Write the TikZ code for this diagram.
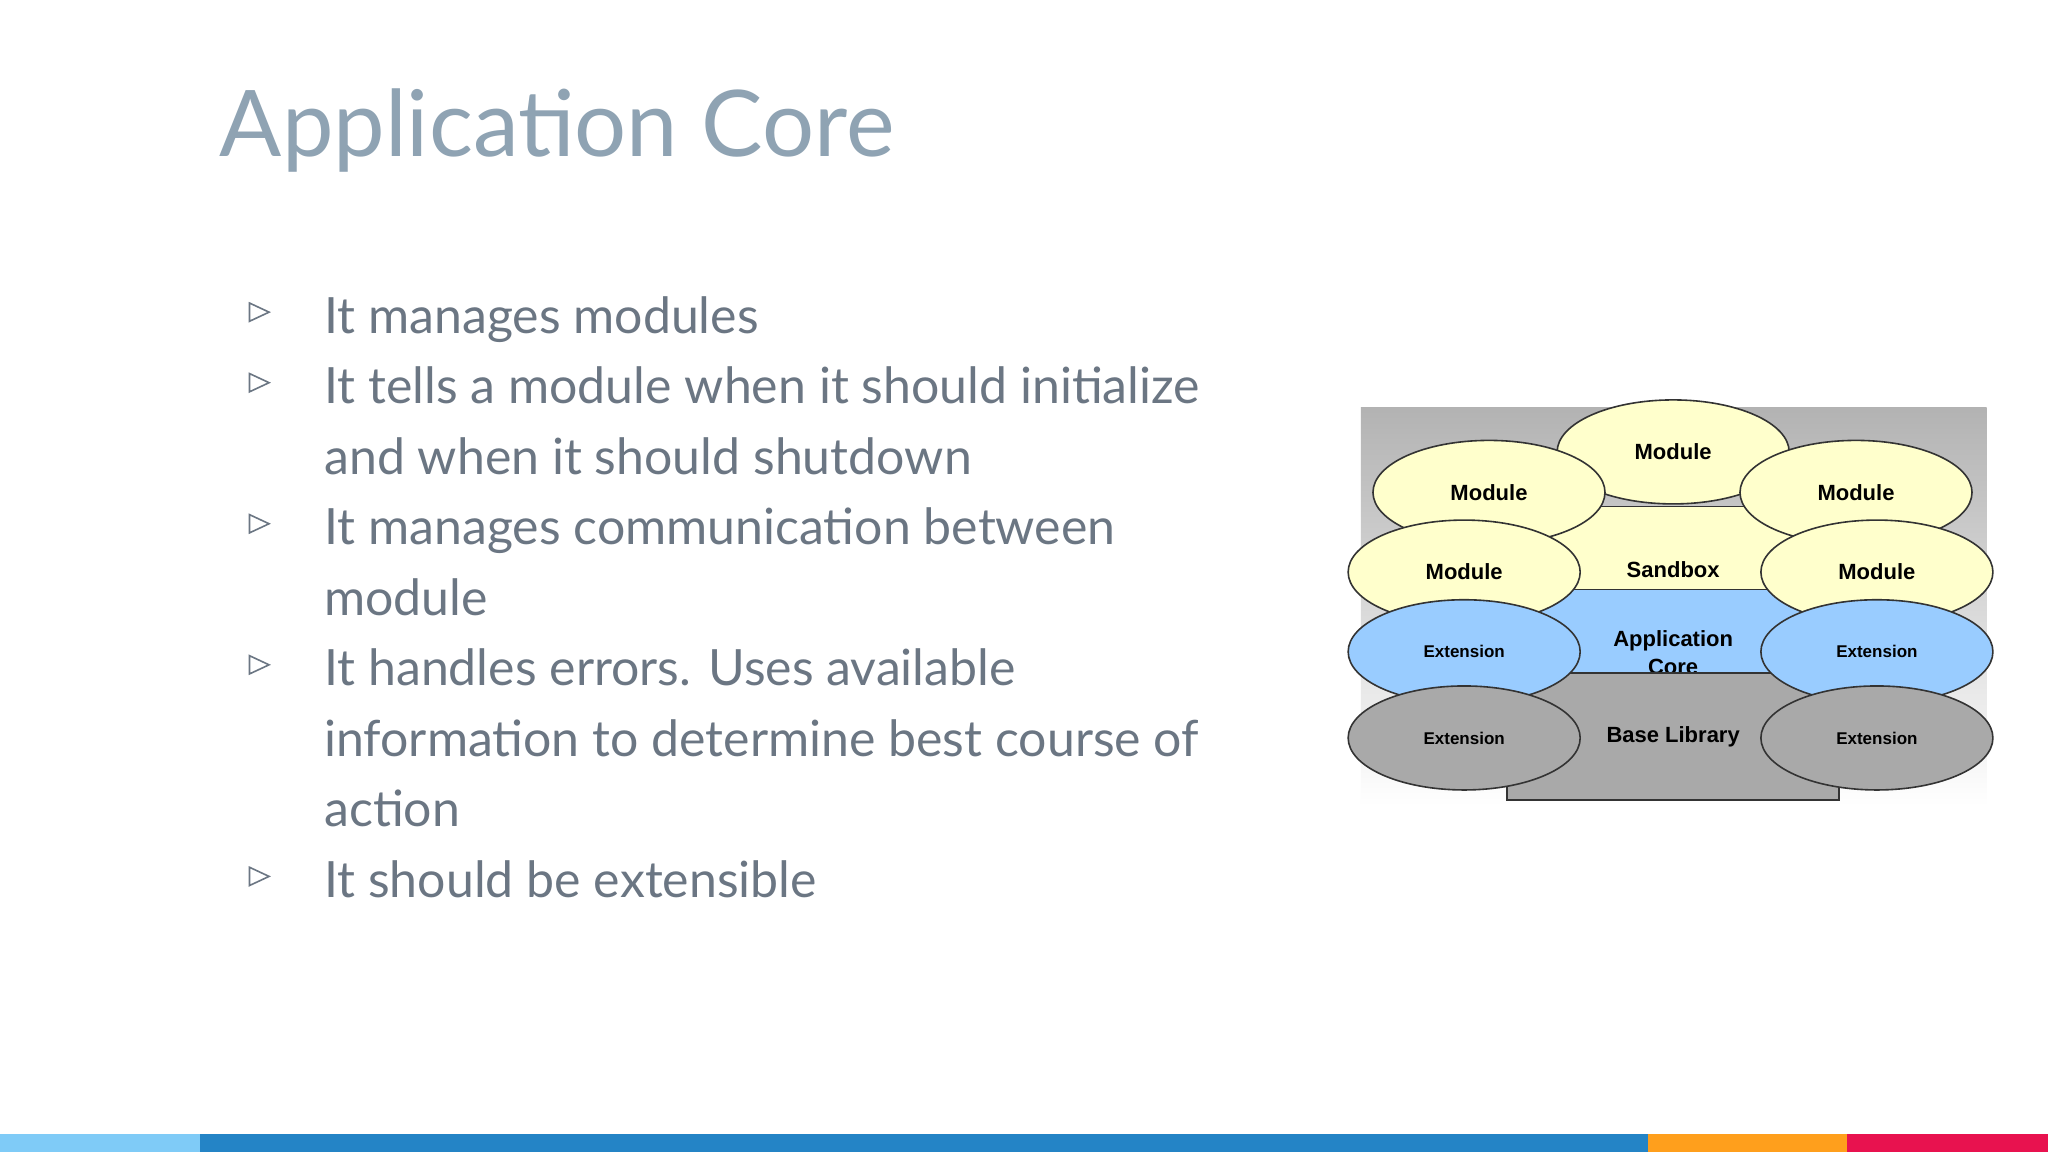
\documentclass[tikz,border=0pt]{standalone}
\usepackage{fontspec}
\usetikzlibrary{shapes.geometric}
\setmainfont{Lato}
\newfontfamily\diag{Liberation Sans}
\definecolor{titlec}{HTML}{8FA3B3}
\definecolor{textc}{HTML}{6B7683}
\definecolor{yel}{HTML}{FFFFCC}
\definecolor{blu}{HTML}{99CCFF}
\definecolor{gry}{HTML}{A9A9A9}
\definecolor{barA}{HTML}{7FCBF7}
\definecolor{barB}{HTML}{2484C6}
\definecolor{barC}{HTML}{FF9F1C}
\definecolor{barD}{HTML}{E8124F}
\begin{document}
\begin{tikzpicture}[x=0.653pt,y=-0.653pt,
  bul/.style={text=textc,font=\fontsize{25}{35}\selectfont,anchor=base west,inner sep=0},
  tri/.style={draw=textc,line width=0.8pt},
  ell/.style={ellipse,draw=black!80,line width=0.8pt,minimum width=116,minimum height=52,inner sep=0,font=\diag\bfseries\fontsize{11}{13}\selectfont},
  extn/.style={ell,font=\diag\bfseries\fontsize{8.5}{10}\selectfont},
  layer/.style={draw=black!80,line width=0.8pt,minimum width=166,minimum height=63.5,inner sep=0,align=center,font=\diag\bfseries\fontsize{11}{14}\selectfont}]
\useasboundingbox (0,0) rectangle (1568,882);
\fill[white] (0,0) rectangle (1568,882);
% bottom bar
\fill[barA] (0,868) rectangle (153,882);
\fill[barB] (153,868) rectangle (1262,882);
\fill[barC] (1262,868) rectangle (1414,882);
\fill[barD] (1414,868) rectangle (1568,882);
% title
\node[anchor=base west,inner sep=0,text=titlec,font=\fontsize{46}{50}\selectfont] (title) at (168,120) {Application Core};
% bullets
\foreach \y in {255,309,417,525,687} {\draw[tri] (191,\y-23) -- (206,\y-16) -- (191,\y-9) -- cycle;}
\node[bul] (b1) at (248,255) {It manages modules};
\node[bul] (b2) at (248,309) {It tells a module when it should initialize};
\node[bul] (b2b) at (248,363) {and when it should shutdown};
\node[bul] (b3) at (248,417) {It manages communication between};
\node[bul] (b3b) at (248,471) {module};
\node[bul] (b4) at (248,525) {It handles errors. Uses available};
\node[bul] (b4b) at (248,579) {information to determine best course of};
\node[bul] (b4c) at (248,633) {action};
\node[bul] (b5) at (248,687) {It should be extensible};
% diagram panel
\shade[top color=black!30,bottom color=white] (1042,312) rectangle (1521,617);
\node[layer,fill=yel] (sb) at (1281,436.5) {Sandbox};
\node[layer,fill=blu] (ac) at (1281,500) {Application\\Core};
\node[layer,fill=gry] (bl) at (1281,564) {Base Library};
\node[ell,fill=yel] (m1) at (1281,346) {Module};
\node[ell,fill=yel] (m2) at (1140,377) {Module};
\node[ell,fill=yel] (m3) at (1421,377) {Module};
\node[ell,fill=yel] (m4) at (1121,438) {Module};
\node[ell,fill=yel] (m5) at (1437,438) {Module};
\node[extn,fill=blu] (e1) at (1121,499) {Extension};
\node[extn,fill=blu] (e2) at (1437,499) {Extension};
\node[extn,fill=gry] (e3) at (1121,565) {Extension};
\node[extn,fill=gry] (e4) at (1437,565) {Extension};
\end{tikzpicture}
\end{document}
